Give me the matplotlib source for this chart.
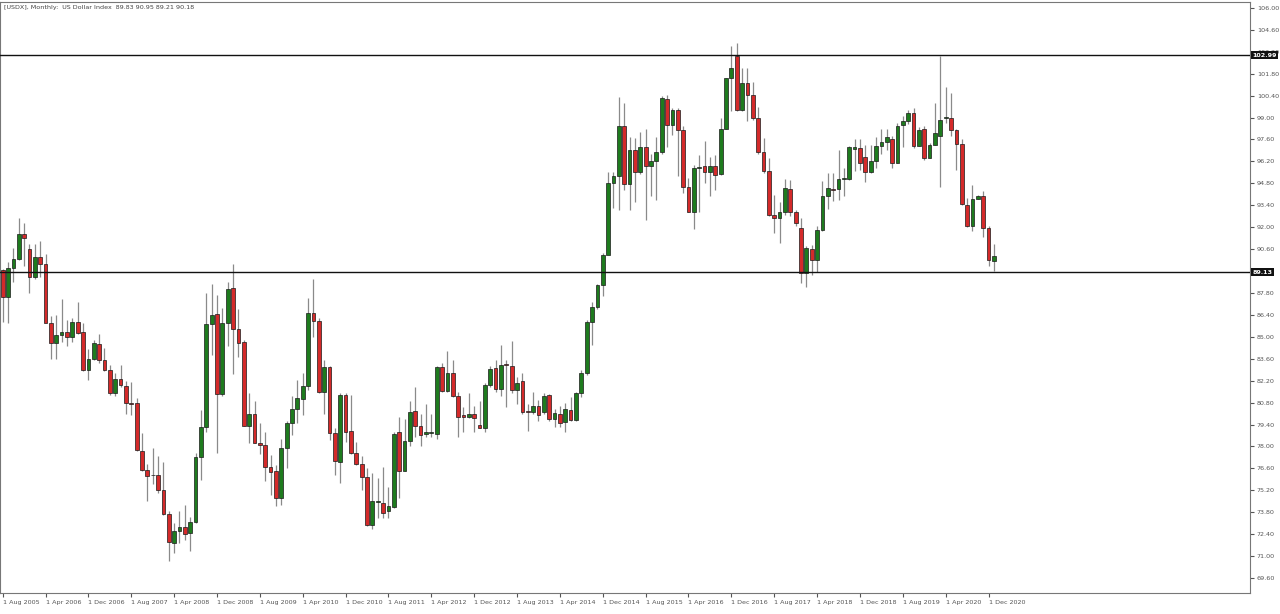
import matplotlib
matplotlib.use('Agg')
import matplotlib.pyplot as plt
import numpy as np

# --- Data: USDX monthly candles, Aug 2005 .. Jan 2021 ---
opens = [
    89.27, 87.53, 89.38, 90.00, 91.55, 90.60, 88.85, 90.08, 89.65, 85.90, 84.60, 85.10,
    85.30, 85.00, 85.97, 85.30, 82.90, 83.60, 84.55, 83.50, 82.85, 81.40, 82.30, 81.87,
    80.76, 80.76, 77.70, 76.50, 76.17, 76.15, 75.20, 73.70, 71.85, 72.57, 72.85, 72.46,
    73.20, 77.30, 79.23, 85.83, 86.46, 81.36, 85.87, 88.10, 85.50, 84.70, 79.30, 80.08,
    78.20, 78.10, 76.70, 76.40, 74.70, 77.90, 79.50, 80.40, 81.00, 81.87, 86.50, 86.00,
    81.50, 83.06, 78.85, 77.00, 81.30, 79.00, 77.60, 76.90, 76.04, 73.00, 74.45, 74.40,
    73.90, 74.10, 78.90, 76.46, 78.36, 80.27, 79.30, 78.80, 78.85, 78.80, 83.10, 81.55,
    82.70, 81.20, 80.00, 79.87, 80.10, 79.38, 79.20, 81.90, 83.00, 81.65, 83.25, 83.15,
    81.60, 82.15, 80.27, 80.20, 80.60, 80.17, 81.30, 79.74, 80.08, 79.55, 80.34, 79.70,
    81.40, 82.68, 85.93, 86.90, 88.30, 90.24, 94.80, 95.24, 98.43, 94.77, 96.90, 95.50,
    97.10, 95.90, 96.20, 96.83, 100.20, 98.54, 99.50, 98.20, 94.56, 93.00, 95.80, 95.90,
    95.50, 95.90, 95.40, 98.26, 101.50, 102.90, 99.50, 101.20, 100.45, 98.96, 96.83, 95.56,
    92.80, 92.60, 93.00, 94.43, 93.00, 91.94, 89.10, 90.60, 89.90, 91.83, 93.96, 94.43,
    94.43, 95.07, 95.07, 97.00, 97.05, 96.50, 95.50, 96.20, 97.20, 97.47, 97.60, 96.13,
    98.50, 98.75, 99.30, 97.20, 98.26, 96.40, 97.26, 97.83, 99.00, 98.96, 98.20, 97.30,
    93.43, 92.10, 93.80, 94.00, 91.94, 89.83,
]
highs = [
    89.30, 89.80, 90.65, 92.60, 92.25, 90.90, 90.90, 91.10, 90.30, 86.30, 86.40, 87.40,
    86.10, 86.20, 87.25, 85.90, 84.20, 84.80, 85.20, 84.30, 83.20, 82.70, 83.20, 82.15,
    82.10, 81.10, 78.85, 76.90, 77.90, 77.36, 77.00, 73.85, 73.10, 73.85, 74.27, 73.50,
    77.60, 80.33, 87.80, 88.40, 87.68, 86.83, 88.50, 89.65, 86.80, 84.80, 81.40, 80.87,
    79.50, 78.95, 77.47, 76.80, 78.50, 79.60, 81.20, 82.25, 82.70, 87.50, 88.68, 86.20,
    83.50, 83.15, 79.20, 81.40, 81.40, 81.30, 78.30, 77.40, 76.60, 76.30, 75.97, 76.70,
    75.40, 78.95, 79.90, 79.74, 80.87, 81.80, 80.08, 80.70, 80.10, 83.15, 83.30, 84.10,
    83.50, 81.50, 80.50, 81.44, 80.60, 80.87, 82.04, 83.15, 83.50, 84.50, 83.50, 84.76,
    82.46, 82.70, 80.70, 81.46, 80.97, 81.40, 81.35, 80.38, 80.60, 80.76, 81.14, 81.50,
    82.85, 86.10, 87.20, 88.40, 90.35, 95.50, 95.50, 100.30, 99.96, 97.75, 97.70, 98.10,
    98.26, 96.70, 97.75, 100.35, 100.43, 99.60, 99.58, 98.43, 95.13, 95.98, 96.60, 97.50,
    96.47, 96.60, 99.00, 101.50, 103.58, 103.75, 102.15, 102.15, 101.30, 99.70, 97.70, 96.40,
    94.07, 93.60, 95.07, 95.00, 93.10, 92.58, 90.81, 90.88, 92.05, 94.98, 95.45, 95.45,
    96.94, 95.77, 97.20, 97.64, 97.60, 97.26, 97.26, 97.75, 98.30, 98.30, 97.83, 98.64,
    99.07, 99.50, 99.60, 98.40, 98.43, 97.40, 99.90, 102.90, 100.94, 100.55, 98.30, 97.60,
    93.85, 94.70, 94.07, 94.30, 92.05, 90.95,
]
lows = [
    85.95, 85.90, 88.50, 89.90, 89.50, 87.80, 88.70, 88.85, 89.50, 83.60, 83.60, 84.70,
    84.40, 84.70, 85.20, 82.80, 82.25, 83.50, 83.30, 82.80, 81.30, 81.20, 81.80, 80.10,
    80.00, 77.70, 76.46, 74.50, 75.60, 75.00, 73.60, 70.66, 71.20, 71.83, 72.00, 71.30,
    73.10, 75.87, 78.95, 83.85, 77.60, 81.20, 84.40, 82.60, 83.74, 79.30, 78.25, 78.20,
    77.50, 75.80, 74.90, 74.20, 74.27, 76.60, 78.70, 79.50, 80.00, 81.60, 85.00, 81.40,
    80.08, 78.40, 76.20, 75.65, 78.30, 77.50, 76.80, 75.20, 72.90, 72.70, 73.40, 73.40,
    73.40, 74.06, 74.70, 76.40, 78.00, 78.60, 78.04, 78.60, 78.60, 78.50, 81.50, 81.50,
    81.14, 78.60, 78.90, 79.80, 78.95, 79.20, 78.90, 81.80, 81.50, 81.20, 80.50, 81.40,
    80.70, 80.10, 79.00, 80.10, 79.65, 80.10, 79.65, 79.27, 79.27, 78.95, 79.65, 79.60,
    81.14, 82.57, 84.50, 86.76, 87.60, 90.40, 93.20, 93.10, 94.40, 93.10, 93.60, 95.40,
    92.47, 93.96, 93.75, 96.70, 97.15, 97.90, 95.24, 94.17, 93.00, 91.88, 93.00, 94.80,
    94.00, 94.40, 95.35, 98.26, 99.40, 99.40, 99.40, 98.75, 98.85, 96.70, 95.45, 92.70,
    91.60, 91.00, 92.80, 92.70, 92.09, 88.43, 88.20, 88.96, 89.17, 91.73, 93.15, 93.70,
    93.75, 93.96, 95.00, 95.56, 95.66, 94.90, 95.45, 95.77, 96.70, 96.94, 95.77, 96.13,
    97.15, 98.60, 97.05, 97.20, 96.30, 96.40, 97.26, 94.56, 98.64, 97.83, 95.66, 93.43,
    92.00, 91.73, 93.80, 91.37, 89.50, 89.21,
]
closes = [
    87.57, 89.38, 90.00, 91.55, 91.30, 88.85, 90.08, 89.65, 85.90, 84.60, 85.10, 85.30,
    85.00, 85.97, 85.27, 82.90, 83.60, 84.60, 83.50, 82.90, 81.40, 82.30, 81.93, 80.76,
    80.70, 77.74, 76.50, 76.10, 76.15, 75.20, 73.70, 71.87, 72.57, 72.85, 72.40, 73.20,
    77.30, 79.23, 85.83, 86.40, 81.36, 85.87, 88.04, 85.50, 84.60, 79.30, 80.08, 78.25,
    78.08, 76.70, 76.34, 74.70, 77.90, 79.50, 80.40, 81.10, 81.87, 86.50, 86.04, 81.50,
    83.06, 78.85, 77.04, 81.30, 78.90, 77.60, 76.90, 76.04, 73.00, 74.50, 74.45, 73.74,
    74.17, 78.80, 76.46, 78.36, 80.23, 79.30, 78.74, 78.95, 78.85, 83.10, 81.55, 82.70,
    81.20, 79.87, 79.90, 80.08, 79.80, 79.20, 81.90, 82.93, 81.65, 83.20, 83.19, 81.60,
    82.08, 80.20, 80.20, 80.60, 80.00, 81.20, 79.74, 80.12, 79.50, 80.38, 79.70, 81.40,
    82.68, 85.93, 86.89, 88.30, 90.24, 94.80, 95.24, 98.43, 94.77, 96.90, 95.50, 97.15,
    95.90, 96.20, 96.83, 100.24, 98.54, 99.50, 98.20, 94.56, 93.00, 95.77, 95.85, 95.50,
    95.90, 95.35, 98.26, 101.50, 102.15, 99.50, 101.20, 100.45, 98.96, 96.83, 95.56, 92.80,
    92.60, 93.00, 94.50, 93.00, 92.26, 89.10, 90.66, 89.90, 91.83, 93.96, 94.50, 94.40,
    95.07, 95.10, 97.10, 97.15, 96.10, 95.50, 96.20, 97.20, 97.47, 97.75, 96.13, 98.49,
    98.75, 99.30, 97.20, 98.20, 96.40, 97.26, 98.00, 98.85, 99.05, 98.20, 97.30, 93.50,
    92.10, 93.80, 93.96, 91.94, 89.90, 90.18,
]
months = ['Jan', 'Feb', 'Mar', 'Apr', 'May', 'Jun', 'Jul', 'Aug', 'Sep', 'Oct', 'Nov', 'Dec']
levels = [102.99, 89.13]

UP = '#1e7b1e'
DOWN = '#d42a2a'
FS = 4.6

fig = plt.figure(figsize=(12.8, 6.14), dpi=100)
ax = fig.add_axes([0.0, 21 / 614, 1250 / 1280, 591 / 614])

n = len(closes)
x = np.arange(n)
o = np.array(opens); h = np.array(highs); l = np.array(lows); c = np.array(closes)
up = c >= o
cols = np.where(up, UP, DOWN)

ax.vlines(x, l, h, color='#8a8a8a', linewidth=0.9, zorder=2)
ax.bar(x, np.maximum(np.abs(c - o), 0.04), bottom=np.minimum(o, c), width=0.7,
       color=cols, edgecolor='#1a1a1a', linewidth=0.5, zorder=3)

for lv in levels:
    ax.axhline(lv, color='#111111', linewidth=1.0, zorder=4)
    ax.text(1.002, lv, f'{lv:.2f}', transform=ax.get_yaxis_transform(), fontsize=FS,
            color='white', fontweight='bold', va='center', ha='left', zorder=5,
            bbox=dict(facecolor='#111111', edgecolor='none', pad=1.0), clip_on=False)

ax.set_xlim(-0.5, 232.8)
ax.set_ylim(68.64, 106.38)

yt = np.round(np.arange(69.6, 106.01, 1.4), 2)
ax.yaxis.tick_right()
ax.set_yticks(yt)
ax.set_yticklabels([f'{v:.2f}' for v in yt])
ax.tick_params(axis='y', labelsize=FS, colors='#555555', length=3, pad=2)

xt = list(range(0, n, 8))
ax.set_xticks(xt)
labels = []
for i in xt:
    m = 7 + i
    labels.append(f'1 {months[m % 12]} {2005 + m // 12}')
ax.set_xticklabels(labels, ha='left')
ax.tick_params(axis='x', labelsize=FS, colors='#555555', length=3, pad=2)

for s in ax.spines.values():
    s.set_color('#777777')
    s.set_linewidth(0.8)

fig.text(0.003, 0.992, '[USDX], Monthly:  US Dollar Index  89.83 90.95 89.21 90.18',
         fontsize=FS, color='#444444', va='top', ha='left')

fig.savefig('out.png', dpi=100, facecolor='white')
